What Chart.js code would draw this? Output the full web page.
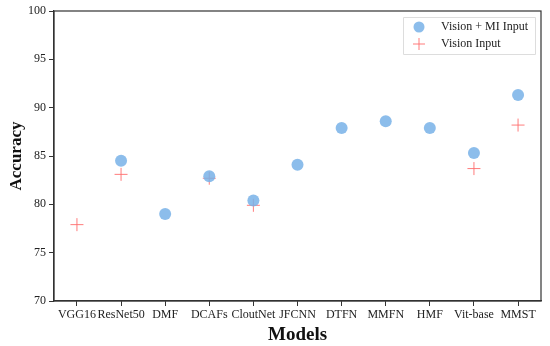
<!DOCTYPE html>
<html><head><meta charset="utf-8">
<script src="https://cdn.jsdelivr.net/npm/chart.js@4.4.1/dist/chart.umd.min.js"></script>
<style>html,body{margin:0;padding:0;background:#fff}#wrap{width:550px;height:346px}</style>
</head><body><div id="wrap"><canvas id="c" width="550" height="346"></canvas></div>
<script>
const categories = ["VGG16","ResNet50","DMF","DCAFs","CloutNet","JFCNN","DTFN","MMFN","HMF","Vit-base","MMST"];
const visionMI = [null,84.5,79.0,82.9,80.4,84.1,87.9,88.6,87.9,85.3,91.3];
const visionOnly = [77.9,83.1,null,82.7,79.9,null,null,null,null,83.7,88.2];
const yTicks = [70,75,80,85,90,95,100];

const FONT = "'Liberation Serif','DejaVu Serif',serif";
const toPts = arr => arr.map((v,i)=>({x:i,y:v})).filter(p=>p.y!==null);

const frame = {
  id:'frame',
  afterDraw(chart){
    const {ctx, chartArea:a} = chart;
    ctx.save();
    ctx.strokeStyle='#333'; ctx.lineWidth=1.2;
    ctx.strokeRect(a.left, a.top, a.right-a.left, a.bottom-a.top);
    // legend
    const lx=403, ly=17, lw=132, lh=37;
    ctx.fillStyle='rgba(255,255,255,0.85)';
    ctx.strokeStyle='#ddd'; ctx.lineWidth=1;
    ctx.beginPath(); ctx.rect(lx+0.5,ly+0.5,lw,lh); ctx.fill(); ctx.stroke();
    const ds = chart.data.datasets;
    ctx.fillStyle='rgba(120,178,232,0.85)';
    ctx.beginPath(); ctx.arc(419,27,5.5,0,Math.PI*2); ctx.fill();
    ctx.strokeStyle='rgba(255,110,110,0.9)'; ctx.lineWidth=1;
    ctx.beginPath(); ctx.moveTo(413,44); ctx.lineTo(425,44); ctx.moveTo(419,38); ctx.lineTo(419,50); ctx.stroke();
    ctx.fillStyle='#222'; ctx.font="12px "+FONT; ctx.textBaseline='middle'; ctx.textAlign='left';
    ctx.fillText(ds[0].label, 441, 27);
    ctx.fillText(ds[1].label, 441, 44);
    ctx.restore();
  }
};

new Chart(document.getElementById('c'), {
  type:'scatter',
  data:{datasets:[
    {label:'Vision + MI Input', data:toPts(visionMI), pointStyle:'circle', pointRadius:6, pointHoverRadius:6,
     backgroundColor:'rgba(120,178,232,0.85)', borderWidth:0},
    {label:'Vision Input', data:toPts(visionOnly), pointStyle:'cross', pointRadius:6.5, pointHoverRadius:6.5,
     borderColor:'rgba(255,110,110,0.9)', borderWidth:1, backgroundColor:'rgba(255,110,110,0.9)'}
  ]},
  options:{
    responsive:false, animation:false, devicePixelRatio:1,
    layout:{padding:{top:11,right:9,left:0,bottom:0}},
    plugins:{legend:{display:false}, tooltip:{enabled:false}},
    scales:{
      x:{type:'linear', min:-0.52, max:10.52,
        afterBuildTicks(s){ s.ticks = categories.map((c,i)=>({value:i})); },
        afterFit(s){ s.height = 45; },
        ticks:{autoSkip:false, maxRotation:0, padding:2, color:'#222', font:{family:FONT,size:12},
          callback:(v)=>categories[v]},
        grid:{drawOnChartArea:false, drawTicks:true, tickLength:5, color:'#333'},
        border:{display:true, color:'#333', width:1.2},
        title:{display:true, text:'Models', color:'#111', font:{family:FONT,size:19,weight:'bold'}, padding:{top:0,bottom:0}}
      },
      y:{type:'linear', min:70, max:100,
        afterBuildTicks(s){ s.ticks = yTicks.map(v=>({value:v})); },
        afterFit(s){ s.width = 54; },
        ticks:{padding:3, color:'#222', font:{family:FONT,size:12}},
        grid:{drawOnChartArea:false, drawTicks:true, tickLength:5, color:'#333'},
        border:{display:true, color:'#333', width:1.2},
        title:{display:true, text:'Accuracy', color:'#111', font:{family:FONT,size:17,weight:'bold'}, padding:{top:6,bottom:2}}
      }
    }
  },
  plugins:[frame]
});
</script></body></html>
